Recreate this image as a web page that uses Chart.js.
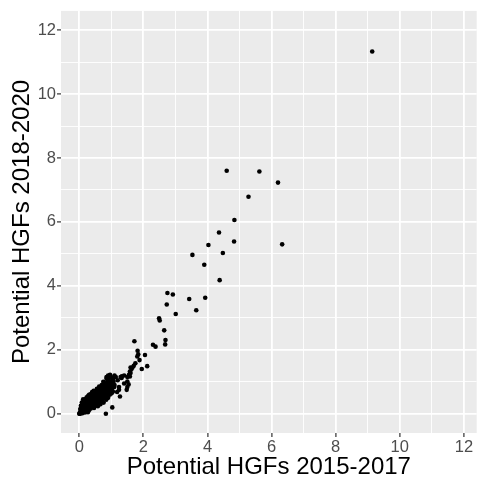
<!DOCTYPE html>
<html>
<head>
<meta charset="utf-8">
<script src="https://cdn.jsdelivr.net/npm/chart.js@4.4.1/dist/chart.umd.min.js"></script>
<style>
  html, body { margin: 0; padding: 0; background: #ffffff; }
  #wrap { width: 479px; height: 480px; }
</style>
</head>
<body>
<div id="wrap"><canvas id="c" width="479" height="480"></canvas></div>
<script>
// ---- data ----
const xTitle = 'Potential HGFs 2015-2017';
const yTitle = 'Potential HGFs 2018-2020';
const majorTicks = [0, 2, 4, 6, 8, 10, 12];
const gridValues = [0, 1, 2, 3, 4, 5, 6, 7, 8, 9, 10, 11, 12];

const upperPoints = [
  [9.14, 11.33], [4.60, 7.60], [5.62, 7.58], [6.20, 7.23], [5.28, 6.79], [4.84, 6.06],
  [4.36, 5.67], [4.03, 5.28], [6.33, 5.30], [4.83, 5.39], [4.48, 5.03], [3.53, 4.97],
  [3.90, 4.66], [4.38, 4.18], [2.75, 3.78], [2.92, 3.73], [3.43, 3.59], [3.93, 3.63],
  [2.73, 3.42], [3.65, 3.24], [3.01, 3.12], [2.49, 2.99], [2.51, 2.92], [2.65, 2.61],
  [2.69, 2.31], [2.68, 2.17], [2.30, 2.16], [2.38, 2.10]
];

const midPoints = [
  [1.72, 2.27], [1.82, 1.97], [1.84, 1.86], [2.05, 1.84], [1.81, 1.79], [1.88, 1.68],
  [1.75, 1.58], [2.12, 1.49], [1.95, 1.40], [1.70, 1.50], [1.66, 1.45], [1.60, 1.45],
  [1.63, 1.40], [1.58, 1.32], [1.55, 1.22], [1.60, 1.28], [1.50, 1.15], [1.58, 1.17],
  [1.33, 1.17], [1.40, 1.20], [1.50, 1.01], [1.54, 0.92], [1.48, 0.75], [1.50, 0.84],
  [1.24, 0.84], [1.27, 0.54], [1.24, 0.75], [0.83, 0.00], [1.03, 0.20], [0.90, 1.20],
  [1.10, 1.20], [1.06, 1.10], [0.96, 1.22], [1.40, 0.95], [1.32, 1.12], [1.20, 1.05],
  [1.14, 1.15], [1.09, 0.84], [0.90, 0.90], [0.85, 1.15], [0.70, 0.81], [0.60, 0.73],
  [1.29, 1.15], [1.18, 0.68]
];

const clusterPoints = [
  [0, 0], [0.01, 0.02], [0.02, 0.0], [0.03, 0.04], [0.04, 0.08], [0.05, 0.02], [0.06, 0.12],
  [0.07, 0.05], [0.08, 0.18], [0.09, 0.09], [0.1, 0.02], [0.1, 0.25], [0.11, 0.14], [0.12, 0.06],
  [0.13, 0.32], [0.14, 0.2], [0.15, 0.1], [0.16, 0.4], [0.17, 0.27], [0.18, 0.04], [0.18, 0.16],
  [0.2, 0.46], [0.2, 0.33], [0.21, 0.22], [0.22, 0.1], [0.23, 0.52], [0.24, 0.38], [0.25, 0.28],
  [0.26, 0.16], [0.27, 0.05], [0.28, 0.56], [0.28, 0.44], [0.3, 0.34], [0.3, 0.22], [0.31, 0.12],
  [0.32, 0.6], [0.33, 0.48], [0.34, 0.4], [0.35, 0.28], [0.36, 0.17], [0.37, 0.62], [0.38, 0.52],
  [0.39, 0.36], [0.4, 0.45], [0.41, 0.24], [0.42, 0.66], [0.43, 0.56], [0.44, 0.32], [0.45, 0.42],
  [0.46, 0.18], [0.47, 0.6], [0.48, 0.5], [0.49, 0.7], [0.5, 0.38], [0.51, 0.28], [0.52, 0.58],
  [0.53, 0.46], [0.54, 0.72], [0.55, 0.34], [0.56, 0.64], [0.57, 0.52], [0.58, 0.24], [0.59, 0.42],
  [0.6, 0.7], [0.61, 0.58], [0.62, 0.48], [0.63, 0.36], [0.64, 0.78], [0.65, 0.62], [0.66, 0.3],
  [0.67, 0.54], [0.68, 0.44], [0.69, 0.72], [0.7, 0.62], [0.71, 0.4], [0.72, 0.8], [0.73, 0.55],
  [0.74, 0.66], [0.75, 0.48], [0.76, 0.35], [0.77, 0.74], [0.78, 0.88], [0.79, 0.6], [0.8, 0.52],
  [0.81, 0.8], [0.82, 0.68], [0.83, 0.95], [0.84, 0.44], [0.85, 0.58], [0.86, 0.86], [0.87, 0.74],
  [0.88, 1.02], [0.89, 0.62], [0.9, 0.5], [0.91, 0.8], [0.92, 1.1], [0.93, 0.7], [0.94, 0.92],
  [0.95, 0.6], [0.96, 1.0], [0.97, 0.84], [0.98, 0.72], [0.99, 1.15], [1.0, 0.95], [1.01, 0.64],
  [1.02, 0.78], [1.03, 1.05], [1.04, 0.88], [1.05, 0.7], [1.07, 1.0], [1.1, 0.9],
  [0.05, 0.25], [0.08, 0.35], [0.12, 0.45], [0.03, 0.15], [0.45, 0.72], [0.55, 0.78],
  [0.62, 0.85], [0.7, 0.9], [0.75, 1.0], [0.85, 1.1], [0.3, 0.58], [0.4, 0.68]
];

const allPoints = upperPoints.concat(midPoints, clusterPoints).map(p => ({ x: p[0], y: p[1] }));
const isMajor = v => majorTicks.includes(v);

const panelBg = {
  id: 'panelBg',
  beforeDraw(chart) {
    const { ctx, chartArea: a } = chart;
    ctx.save();
    ctx.fillStyle = '#ebebeb';
    ctx.fillRect(a.left, a.top, a.right - a.left, a.bottom - a.top);
    ctx.restore();
  }
};

const fontFamily = '"Liberation Sans", Arial, sans-serif';

function axis(min, max, title, fitFn, titlePad) {
  return {
    type: 'linear',
    min: min,
    max: max,
    afterBuildTicks: s => { s.ticks = gridValues.map(v => ({ value: v })); },
    afterFit: fitFn,
    border: { display: false },
    grid: {
      color: '#ffffff',
      lineWidth: c => (c.tick && isMajor(c.tick.value)) ? 1.8 : 0.9,
      drawTicks: true,
      tickLength: 4,
      tickWidth: 1.2,
      tickColor: c => (c.tick && isMajor(c.tick.value)) ? '#333333' : 'rgba(0,0,0,0)'
    },
    ticks: {
      autoSkip: false,
      maxRotation: 0,
      padding: 1,
      color: '#4d4d4d',
      font: { family: fontFamily, size: 16.5 },
      callback: v => isMajor(v) ? String(v) : ''
    },
    title: {
      display: true,
      text: title,
      color: '#000000',
      font: { family: fontFamily, size: 24 },
      padding: titlePad
    }
  };
}

new Chart(document.getElementById('c'), {
  type: 'scatter',
  data: {
    datasets: [{
      data: allPoints,
      backgroundColor: '#000000',
      borderWidth: 0,
      pointRadius: 2.3,
      pointHoverRadius: 2.3
    }]
  },
  options: {
    responsive: false,
    animation: false,
    events: [],
    layout: { padding: { top: 6, right: 0, bottom: 0, left: 0 } },
    plugins: { legend: { display: false }, tooltip: { enabled: false } },
    scales: {
      x: axis(-0.57, 12.4, xTitle, s => { s.height = 47; }, { top: -2, bottom: -2 }),
      y: axis(-0.6, 12.6, yTitle, s => { s.width = 61; }, { top: 8, bottom: 0 })
    }
  },
  plugins: [panelBg]
});
</script>
</body>
</html>
